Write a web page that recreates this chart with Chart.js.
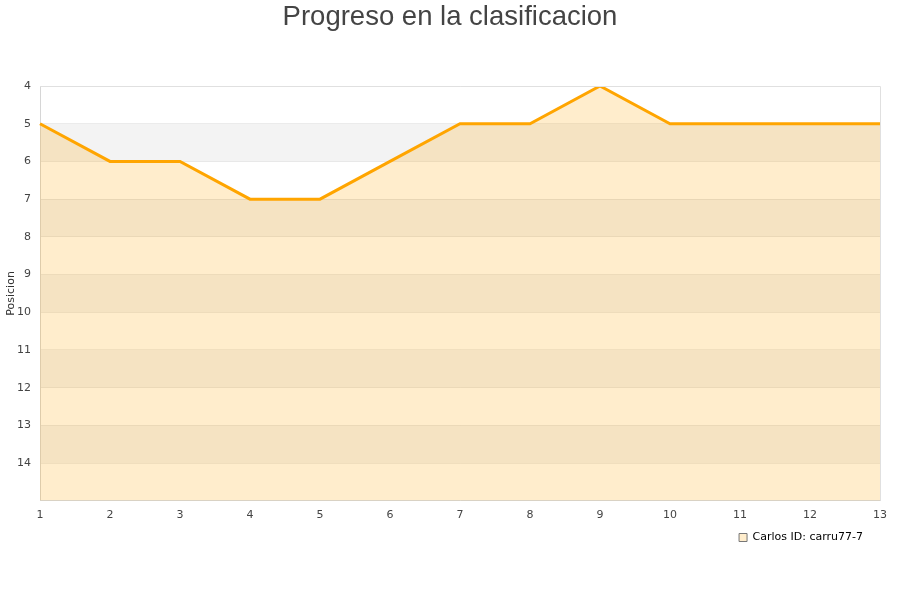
<!DOCTYPE html>
<html>
<head>
<meta charset="utf-8">
<script src="https://cdn.jsdelivr.net/npm/chart.js@4"></script>
<style>
  html, body { margin: 0; padding: 0; background: #fff; }
  #wrap { width: 900px; height: 600px; }
</style>
</head>
<body>
<div id="wrap"><canvas id="posChart"></canvas></div>
<script>
const jornadas = ['1', '2', '3', '4', '5', '6', '7', '8', '9', '10', '11', '12', '13'];
const posiciones = [5, 6, 6, 7, 7, 6, 5, 5, 4, 5, 5, 5, 5];
const yMin = 4;
const yMax = 15;

// alternating background bands, drawn behind everything
const bandsPlugin = {
    id: 'bands',
    beforeDraw(chart) {
        const { ctx, chartArea, scales } = chart;
        const y = scales.y;
        ctx.save();
        for (let v = yMin; v < yMax; v++) {
            if ((v - yMin) % 2 === 1) {
                const top = y.getPixelForValue(v);
                const bottom = y.getPixelForValue(v + 1);
                ctx.fillStyle = '#f3f3f3';
                ctx.fillRect(chartArea.left, top, chartArea.right - chartArea.left, bottom - top);
            }
        }
        ctx.restore();
    }
};

const framePlugin = {
    id: 'frame',
    afterDatasetsDraw(chart) {
        const { ctx, chartArea } = chart;
        ctx.save();
        ctx.strokeStyle = '#e0e0e0';
        ctx.lineWidth = 1;
        ctx.beginPath();
        ctx.moveTo(chartArea.left, chartArea.top + 0.5);
        ctx.lineTo(chartArea.right + 0.5, chartArea.top + 0.5);
        ctx.lineTo(chartArea.right + 0.5, chartArea.bottom);
        ctx.stroke();
        ctx.restore();
    }
};

// nudge the legend box a bit left/up after layout
const legendNudge = {
    id: 'legendNudge',
    afterLayout(chart) {
        const lg = chart.legend;
        if (!lg) return;
        lg.left -= 14;
        lg.right -= 14;
        lg.top -= 1;
        lg.bottom -= 1;
    }
};

new Chart(document.getElementById('posChart'), {
    type: 'line',
    data: {
        labels: jornadas,
        datasets: [{
            label: 'Carlos ID: carru77-7',
            data: posiciones,
            borderColor: '#ffa500',
            backgroundColor: 'rgba(255, 165, 0, 0.2)',
            borderWidth: 3,
            fill: { value: yMax },
            tension: 0,
            pointRadius: 0,
            pointHoverRadius: 4
        }]
    },
    options: {
        responsive: true,
        maintainAspectRatio: false,
        animation: false,
        layout: { padding: { left: 0, right: 0, top: 1, bottom: 46 } },
        plugins: {
            title: {
                display: true,
                text: 'Progreso en la clasificacion',
                color: '#444444',
                font: { family: 'Liberation Sans', size: 27.5, weight: 'normal' },
                padding: { top: 0, bottom: 52 }
            },
            legend: {
                position: 'bottom',
                align: 'end',
                fullSize: false,
                labels: {
                    boxWidth: 8,
                    boxHeight: 8,
                    padding: 3,
                    color: '#222222',
                    font: { family: 'DejaVu Sans', size: 11 },
                    generateLabels: () => [{
                        text: 'Carlos ID: carru77-7',
                        fillStyle: '#ffedcc',
                        strokeStyle: '#777777',
                        lineWidth: 1,
                        datasetIndex: 0
                    }]
                }
            },
            tooltip: { enabled: true }
        },
        scales: {
            x: {
                offset: false,
                grid: { display: false, drawTicks: false },
                border: { color: '#d6d6d6' },
                ticks: {
                    color: '#444444',
                    font: { family: 'DejaVu Sans', size: 11 },
                    padding: 8,
                    maxRotation: 0
                }
            },
            y: {
                reverse: true,
                min: yMin,
                max: yMax,
                afterFit: (s) => { s.width = 40; },
                grid: { color: 'rgba(0, 0, 0, 0.07)', drawTicks: false },
                border: { color: '#d6d6d6' },
                title: {
                    display: true,
                    text: 'Posicion',
                    color: '#333333',
                    font: { family: 'DejaVu Sans', size: 11 },
                    padding: { top: 5, bottom: 0 }
                },
                ticks: {
                    stepSize: 1,
                    color: '#444444',
                    font: { family: 'DejaVu Sans', size: 11 },
                    padding: 9,
                    callback: (v) => (v === yMax ? '' : v)
                }
            },
            // empty right-side spacer so the plot ends 20px from the edge
            ySpacer: {
                position: 'right',
                display: true,
                grid: { display: false, drawTicks: false },
                border: { display: false },
                ticks: { display: false },
                afterFit: (s) => { s.width = 20; }
            }
        }
    },
    plugins: [bandsPlugin, framePlugin, legendNudge]
});
</script>
</body>
</html>
